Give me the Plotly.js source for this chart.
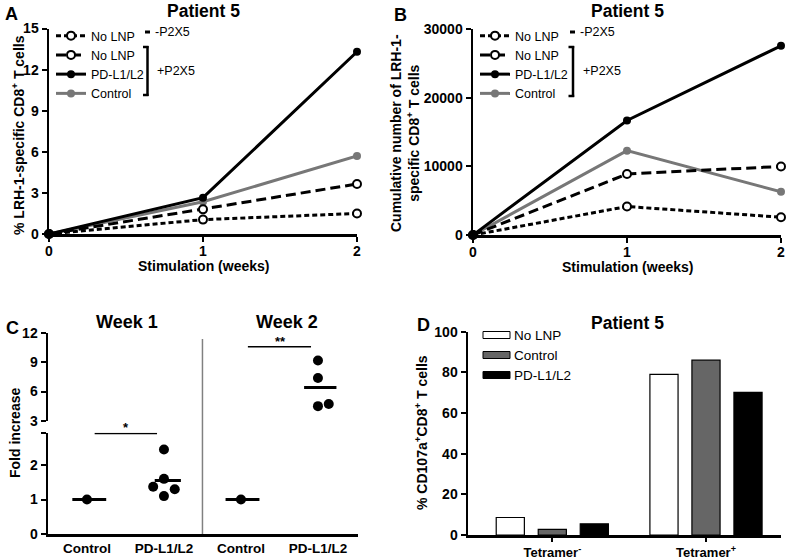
<!DOCTYPE html>
<html><head><meta charset="utf-8">
<script src="https://cdn.plot.ly/plotly-3.0.1.min.js"></script>
<style>html,body{margin:0;padding:0;background:#fff}#plot{width:787px;height:559px}</style>
</head><body><div id="plot"></div>
<script>
// ---------- DATA ----------
const weeks = [0, 1, 2];
const seriesNames = ['No LNP', 'No LNP', 'PD-L1/L2', 'Control'];
// Panel A: % LRH-1-specific CD8+ T cells
const pctNoLnpMinus = [0, 1.05, 1.5];
const pctNoLnpPlus  = [0, 1.8, 3.65];
const pctPdl        = [0, 2.65, 13.3];
const pctControl    = [0, 2.35, 5.7];
// Panel B: cumulative number of LRH-1-specific CD8+ T cells
const cumNoLnpMinus = [0, 4150, 2600];
const cumNoLnpPlus  = [0, 8900, 10000];
const cumPdl        = [0, 16700, 27600];
const cumControl    = [0, 12300, 6300];
// Panel C: fold increase
const cCatPos   = [1, 2, 3, 4];
const cCatText  = ['Control', 'PD-L1/L2', 'Control', 'PD-L1/L2'];
const w1ControlY = [1];
const w1PdlY     = [2.45, 1.6, 1.37, 1.3, 1.1];
const w1PdlJit   = [0, 0, -0.14, 0.14, 0];
const w2ControlY = [1];
const w2PdlY     = [9.2, 7.4, 4.5, 4.72];
const w2PdlJit   = [0, 0, 0, 0.14];
const cMeans     = [1, 1.55, 1, 6.43];
const sigLabels  = ['*', '**'];
// Panel D: % CD107a+CD8+ T cells
const dCats      = ['Tetramer<sup>-</sup>', 'Tetramer<sup>+</sup>'];
const dNoLnp     = [8.6, 79];
const dControl   = [2.8, 86];
const dPdl       = [5.5, 70.2];
const dNames     = ['No LNP', 'Control', 'PD-L1/L2'];

// ---------- STYLE ----------
const W = 787, H = 559;
const F = 'Liberation Sans, Arial, Helvetica, sans-serif';
const GRAY = '#777777';
const px = x => x / W, py = y => 1 - y / H;
const TICK = 14, TITLE = 14;

function ax(extra) {
  return Object.assign({
    showline: true, linecolor: '#000', linewidth: 2.5, mirror: false,
    ticks: 'outside', ticklen: 5, tickwidth: 2, tickcolor: '#000',
    showgrid: false, zeroline: false, fixedrange: true,
    tickfont: {family: F, size: TICK, color: '#000', weight: 'bold'}
  }, extra);
}

const openM = {symbol: 'circle', size: 8, color: '#fff', line: {color: '#000', width: 2}};
const lineDefs = [
  {name: seriesNames[0], dash: '5px,3px', color: '#000', marker: openM},
  {name: seriesNames[1], dash: '10px,5px', color: '#000', marker: openM},
  {name: seriesNames[2], dash: 'solid', color: '#000', marker: {symbol: 'circle', size: 8, color: '#000'}},
  {name: seriesNames[3], dash: 'solid', color: GRAY, marker: {symbol: 'circle', size: 8, color: GRAY}}
];

const traces = [];
function addLines(vals, xa, ya, leg) {
  [3, 0, 1, 2].forEach(i => {
    const d = lineDefs[i];
    traces.push({
      type: 'scatter', mode: 'lines+markers', x: weeks, y: vals[i],
      xaxis: xa, yaxis: ya, name: d.name, legend: leg, legendrank: i + 1,
      line: {color: d.color, width: 3, dash: d.dash}, marker: d.marker,
      cliponaxis: false, hoverinfo: 'skip'
    });
  });
}
addLines([pctNoLnpMinus, pctNoLnpPlus, pctPdl, pctControl], 'x', 'y', 'legend');
addLines([cumNoLnpMinus, cumNoLnpPlus, cumPdl, cumControl], 'x2', 'y2', 'legend2');

// Panel C
const dot = {symbol: 'circle', size: 10, color: '#000'};
function addDots(cx, ys, jit, ya) {
  traces.push({type: 'scatter', mode: 'markers', x: ys.map((_, i) => cx + (jit ? jit[i] : 0)), y: ys,
    xaxis: 'x3', yaxis: ya, marker: dot, showlegend: false, cliponaxis: false, hoverinfo: 'skip'});
}
addDots(cCatPos[0], w1ControlY, null, 'y3');
addDots(cCatPos[1], w1PdlY, w1PdlJit, 'y3');
addDots(cCatPos[2], w2ControlY, null, 'y3');
addDots(cCatPos[3], w2PdlY, w2PdlJit, 'y4');
const meanHalf = [0.22, 0.17, 0.22, 0.21];
const meanShift = [0.03, 0.05, 0.02, 0.03];
cMeans.forEach((m, i) => {
  const c = cCatPos[i] + meanShift[i];
  traces.push({type: 'scatter', mode: 'lines', x: [c - meanHalf[i], c + meanHalf[i]], y: [m, m],
    xaxis: 'x3', yaxis: i === 3 ? 'y4' : 'y3', line: {color: '#000', width: 3},
    showlegend: false, cliponaxis: false, hoverinfo: 'skip'});
});
const sigPairs = [[1.1, 1.91], [3.09, 3.91]];
const sigY = [2.92, 10.62];
sigPairs.forEach((p, i) => {
  traces.push({type: 'scatter', mode: 'lines', x: p, y: [sigY[i], sigY[i]],
    xaxis: 'x3', yaxis: i === 0 ? 'y3' : 'y4', line: {color: '#000', width: 1.5},
    showlegend: false, cliponaxis: false, hoverinfo: 'skip'});
});

// Panel D
const barDefs = [
  {y: dNoLnp, color: '#ffffff'},
  {y: dControl, color: '#666666'},
  {y: dPdl, color: '#000000'}
];
barDefs.forEach((b, i) => {
  traces.push({type: 'bar', x: dCats, y: b.y, name: dNames[i], xaxis: 'x5', yaxis: 'y5',
    marker: {color: b.color, line: {color: '#000', width: 1.2}}, showlegend: false, hoverinfo: 'skip'});
});

// ---------- LAYOUT ----------
const annotations = [];
function txt(t, x, y, size, opts) {
  annotations.push(Object.assign({text: t, x: px(x), y: py(y), xref: 'paper', yref: 'paper',
    showarrow: false, xanchor: 'center', yanchor: 'middle',
    font: {family: F, size: size, color: '#000', weight: 'bold'}}, opts || {}));
}
txt('A', 11, 14, 18); txt('B', 400, 15, 18); txt('C', 12, 328, 18); txt('D', 423, 325, 18);
txt('Patient 5', 203, 11, 17.5); txt('Patient 5', 627, 11, 17.5); txt('Patient 5', 627, 323, 17.5);
txt('Week 1', 127, 322, 18); txt('Week 2', 287, 322, 18);
txt('Stimulation (weeks)', 203, 266, TITLE); txt('Stimulation (weeks)', 627, 267, TITLE);
txt('% LRH-1-specific CD8<sup>+</sup> T cells', 18, 135, TITLE, {textangle: -90});
txt('Cumulative number of LRH-1-<br>specific CD8<sup>+</sup> T cells', 405, 133, 14, {textangle: -90});
txt('Fold increase', 15, 433, TITLE, {textangle: -90});
txt('% CD107a<sup>+</sup>CD8<sup>+</sup> T cells', 421, 432, TITLE, {textangle: -90});
const normF = {family: F, size: 12.5, color: '#000', weight: 'normal'};
txt('-P2X5', 153, 32, 12.5, {xanchor: 'left', font: normF});
txt('+P2X5', 155, 71, 12.5, {xanchor: 'left', font: normF});
txt('-P2X5', 578, 32, 12.5, {xanchor: 'left', font: normF});
txt('+P2X5', 581, 71, 12.5, {xanchor: 'left', font: normF});
txt(sigLabels[0], 126, 427, 13); txt(sigLabels[1], 280, 341, 13);
dNames.forEach((n, i) => txt(n, 512, 335 + 20 * i, 13.5, {xanchor: 'left', font: {family: F, size: 13.5, color: '#000', weight: 'normal'}}));

const shapes = [];
function pline(x0, y0, x1, y1, w, c) {
  shapes.push({type: 'line', xref: 'paper', yref: 'paper', x0: px(x0), y0: py(y0), x1: px(x1), y1: py(y1),
    line: {color: c || '#000', width: w || 2.5}});
}
pline(145, 32, 150, 32, 3);
pline(147.5, 46, 147.5, 96, 2.5); pline(143, 47, 148.5, 47, 2.5); pline(143, 95, 148.5, 95, 2.5);
pline(570, 32, 575, 32, 3);
pline(573, 46, 573, 97, 2.5); pline(568.5, 47, 574.2, 47, 2.5); pline(568.5, 96, 574.2, 96, 2.5);
shapes.push({type: 'line', xref: 'x3', yref: 'paper', x0: 2.5, x1: 2.5, y0: py(534), y1: py(339),
  line: {color: '#808080', width: 1.5}});
barDefs.forEach((b, i) => {
  shapes.push({type: 'rect', xref: 'paper', yref: 'paper', x0: px(483), x1: px(510),
    y0: py(335 + 20 * i - 3.5), y1: py(335 + 20 * i + 3.5), fillcolor: b.color, line: {color: '#000', width: 1}});
});

const legBase = {bgcolor: 'rgba(0,0,0,0)', font: {family: F, size: 12.5, color: '#000'},
  xanchor: 'left', yanchor: 'top', itemwidth: 30, tracegroupgap: 0, traceorder: 'normal'};

const layout = {
  width: W, height: H, margin: {l: 0, r: 0, t: 0, b: 0},
  paper_bgcolor: '#fff', plot_bgcolor: 'rgba(0,0,0,0)',
  showlegend: true, hovermode: false,
  font: {family: F, color: '#000'},
  legend: Object.assign({}, legBase, {x: px(51), y: py(21)}),
  legend2: Object.assign({}, legBase, {x: px(475), y: py(21)}),
  bargap: 0.18, bargroupgap: 0.33,
  xaxis: ax({domain: [px(49), px(357)], range: [0, 2], anchor: 'y', tickvals: weeks, ticklabelstandoff: -2}),
  yaxis: ax({domain: [py(234), py(28.5)], range: [0, 15], anchor: 'x', tickvals: [0, 3, 6, 9, 12, 15]}),
  xaxis2: ax({domain: [px(473), px(781)], range: [0, 2], anchor: 'y2', tickvals: weeks, ticklabelstandoff: -2}),
  yaxis2: ax({domain: [py(235), py(29.3)], range: [0, 30000], anchor: 'x2', tickvals: [0, 10000, 20000, 30000], tickformat: 'd'}),
  xaxis3: ax({domain: [px(48), px(358)], range: [0.494, 4.52], anchor: 'y3', ticks: '', tickvals: cCatPos, ticktext: cCatText,
    tickfont: {family: F, size: 13.5, color: '#000', weight: 'bold'}}),
  yaxis3: ax({domain: [py(534), py(432.7)], range: [0, 2.94], anchor: 'x3', tickvals: [0, 1, 2, 2.94], ticktext: ['0', '1', '2', '']}),
  yaxis4: ax({domain: [py(420.7), py(333.3)], range: [3, 12], anchor: 'x3', tickvals: [3, 6, 9, 12]}),
  xaxis5: ax({domain: [px(468), px(781)], range: [-0.5485, 1.488], anchor: 'y5', type: 'category', ticklen: 4,
    tickfont: {family: F, size: 13, color: '#000', weight: 'bold'}}),
  yaxis5: ax({domain: [py(535), py(331.7)], range: [0, 100], anchor: 'x5', tickvals: [0, 20, 40, 60, 80, 100]}),
  annotations: annotations, shapes: shapes
};

Plotly.newPlot('plot', traces, layout, {staticPlot: true, displayModeBar: false});
</script>
</body></html>
